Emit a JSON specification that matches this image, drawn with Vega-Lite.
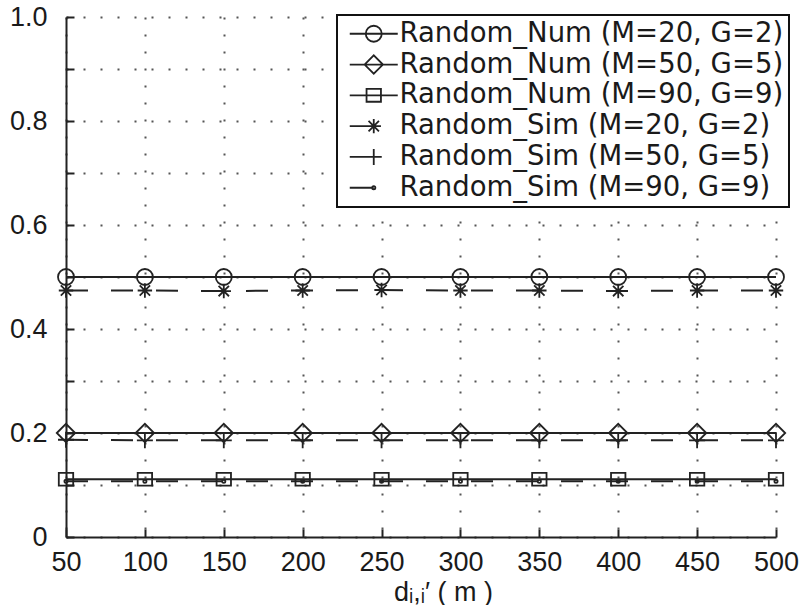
{
  "$schema": "https://vega.github.io/schema/vega-lite/v6.json",
  "width": 710,
  "height": 520,
  "autosize": {"type": "none"},
  "padding": {"left": 66, "top": 17, "right": 27, "bottom": 68},
  "config": {
    "view": {"stroke": null},
    "font": "Liberation Sans",
    "axis": {
      "domainColor": "#222",
      "domainWidth": 2,
      "tickColor": "#222",
      "tickWidth": 2,
      "tickSize": -8,
      "labelFont": "Liberation Sans",
      "labelFontSize": 27,
      "labelColor": "#1a1a1a",
      "labelFlush": false,
      "labelOverlap": false,
      "grid": true,
      "gridColor": "#555",
      "gridWidth": 2,
      "gridDash": [2, 15],
      "gridOpacity": 1
    },
    "legend": {
      "strokeColor": "#111",
      "strokeWidth": 2,
      "fillColor": "white"
    }
  },
  "data": {
    "values": [
      {"d": 50, "series": "Random_Num (M=20, G=2)", "kind": "Num", "p": 0.5},
      {"d": 100, "series": "Random_Num (M=20, G=2)", "kind": "Num", "p": 0.5},
      {"d": 150, "series": "Random_Num (M=20, G=2)", "kind": "Num", "p": 0.5},
      {"d": 200, "series": "Random_Num (M=20, G=2)", "kind": "Num", "p": 0.5},
      {"d": 250, "series": "Random_Num (M=20, G=2)", "kind": "Num", "p": 0.5},
      {"d": 300, "series": "Random_Num (M=20, G=2)", "kind": "Num", "p": 0.5},
      {"d": 350, "series": "Random_Num (M=20, G=2)", "kind": "Num", "p": 0.5},
      {"d": 400, "series": "Random_Num (M=20, G=2)", "kind": "Num", "p": 0.5},
      {"d": 450, "series": "Random_Num (M=20, G=2)", "kind": "Num", "p": 0.5},
      {"d": 500, "series": "Random_Num (M=20, G=2)", "kind": "Num", "p": 0.5},
      {"d": 50, "series": "Random_Num (M=50, G=5)", "kind": "Num", "p": 0.2},
      {"d": 100, "series": "Random_Num (M=50, G=5)", "kind": "Num", "p": 0.2},
      {"d": 150, "series": "Random_Num (M=50, G=5)", "kind": "Num", "p": 0.2},
      {"d": 200, "series": "Random_Num (M=50, G=5)", "kind": "Num", "p": 0.2},
      {"d": 250, "series": "Random_Num (M=50, G=5)", "kind": "Num", "p": 0.2},
      {"d": 300, "series": "Random_Num (M=50, G=5)", "kind": "Num", "p": 0.2},
      {"d": 350, "series": "Random_Num (M=50, G=5)", "kind": "Num", "p": 0.2},
      {"d": 400, "series": "Random_Num (M=50, G=5)", "kind": "Num", "p": 0.2},
      {"d": 450, "series": "Random_Num (M=50, G=5)", "kind": "Num", "p": 0.2},
      {"d": 500, "series": "Random_Num (M=50, G=5)", "kind": "Num", "p": 0.2},
      {"d": 50, "series": "Random_Num (M=90, G=9)", "kind": "Num", "p": 0.111},
      {"d": 100, "series": "Random_Num (M=90, G=9)", "kind": "Num", "p": 0.111},
      {"d": 150, "series": "Random_Num (M=90, G=9)", "kind": "Num", "p": 0.111},
      {"d": 200, "series": "Random_Num (M=90, G=9)", "kind": "Num", "p": 0.111},
      {"d": 250, "series": "Random_Num (M=90, G=9)", "kind": "Num", "p": 0.111},
      {"d": 300, "series": "Random_Num (M=90, G=9)", "kind": "Num", "p": 0.111},
      {"d": 350, "series": "Random_Num (M=90, G=9)", "kind": "Num", "p": 0.111},
      {"d": 400, "series": "Random_Num (M=90, G=9)", "kind": "Num", "p": 0.111},
      {"d": 450, "series": "Random_Num (M=90, G=9)", "kind": "Num", "p": 0.111},
      {"d": 500, "series": "Random_Num (M=90, G=9)", "kind": "Num", "p": 0.111},
      {"d": 50, "series": "Random_Sim (M=20, G=2)", "kind": "Sim", "p": 0.474},
      {"d": 100, "series": "Random_Sim (M=20, G=2)", "kind": "Sim", "p": 0.474},
      {"d": 150, "series": "Random_Sim (M=20, G=2)", "kind": "Sim", "p": 0.473},
      {"d": 200, "series": "Random_Sim (M=20, G=2)", "kind": "Sim", "p": 0.474},
      {"d": 250, "series": "Random_Sim (M=20, G=2)", "kind": "Sim", "p": 0.475},
      {"d": 300, "series": "Random_Sim (M=20, G=2)", "kind": "Sim", "p": 0.474},
      {"d": 350, "series": "Random_Sim (M=20, G=2)", "kind": "Sim", "p": 0.474},
      {"d": 400, "series": "Random_Sim (M=20, G=2)", "kind": "Sim", "p": 0.473},
      {"d": 450, "series": "Random_Sim (M=20, G=2)", "kind": "Sim", "p": 0.474},
      {"d": 500, "series": "Random_Sim (M=20, G=2)", "kind": "Sim", "p": 0.474},
      {"d": 50, "series": "Random_Sim (M=50, G=5)", "kind": "Sim", "p": 0.187},
      {"d": 100, "series": "Random_Sim (M=50, G=5)", "kind": "Sim", "p": 0.186},
      {"d": 150, "series": "Random_Sim (M=50, G=5)", "kind": "Sim", "p": 0.186},
      {"d": 200, "series": "Random_Sim (M=50, G=5)", "kind": "Sim", "p": 0.186},
      {"d": 250, "series": "Random_Sim (M=50, G=5)", "kind": "Sim", "p": 0.186},
      {"d": 300, "series": "Random_Sim (M=50, G=5)", "kind": "Sim", "p": 0.186},
      {"d": 350, "series": "Random_Sim (M=50, G=5)", "kind": "Sim", "p": 0.186},
      {"d": 400, "series": "Random_Sim (M=50, G=5)", "kind": "Sim", "p": 0.186},
      {"d": 450, "series": "Random_Sim (M=50, G=5)", "kind": "Sim", "p": 0.186},
      {"d": 500, "series": "Random_Sim (M=50, G=5)", "kind": "Sim", "p": 0.186},
      {"d": 50, "series": "Random_Sim (M=90, G=9)", "kind": "Sim", "p": 0.107},
      {"d": 100, "series": "Random_Sim (M=90, G=9)", "kind": "Sim", "p": 0.107},
      {"d": 150, "series": "Random_Sim (M=90, G=9)", "kind": "Sim", "p": 0.107},
      {"d": 200, "series": "Random_Sim (M=90, G=9)", "kind": "Sim", "p": 0.107},
      {"d": 250, "series": "Random_Sim (M=90, G=9)", "kind": "Sim", "p": 0.107},
      {"d": 300, "series": "Random_Sim (M=90, G=9)", "kind": "Sim", "p": 0.107},
      {"d": 350, "series": "Random_Sim (M=90, G=9)", "kind": "Sim", "p": 0.107},
      {"d": 400, "series": "Random_Sim (M=90, G=9)", "kind": "Sim", "p": 0.107},
      {"d": 450, "series": "Random_Sim (M=90, G=9)", "kind": "Sim", "p": 0.107},
      {"d": 500, "series": "Random_Sim (M=90, G=9)", "kind": "Sim", "p": 0.107}
    ]
  },
  "encoding": {
    "x": {
      "field": "d",
      "type": "quantitative",
      "scale": {"domain": [50, 500], "nice": false, "zero": false},
      "axis": {
        "values": [50, 100, 150, 200, 250, 300, 350, 400, 450, 500],
        "format": "d",
        "labelPadding": 20,
        "title": "dᵢ,ᵢ′ ( m )",
        "titleFont": "Liberation Sans",
        "titleFontSize": 27,
        "titleFontWeight": "normal",
        "titleColor": "#1a1a1a",
        "titleX": 377,
        "titleY": 63,
        "titleAnchor": "middle",
        "titleBaseline": "alphabetic"
      }
    },
    "y": {
      "field": "p",
      "type": "quantitative",
      "scale": {"domain": [0, 1], "nice": false},
      "axis": {
        "values": [0, 0.1, 0.2, 0.3, 0.4, 0.5, 0.6, 0.7, 0.8, 0.9, 1.0],
        "labelExpr": "datum.value == 0 ? '0' : (round(datum.value * 10) % 2 == 0 ? format(datum.value, '.1f') : '')",
        "labelPadding": 27,
        "title": null
      }
    }
  },
  "layer": [
    {
      "mark": {"type": "line", "color": "#222", "strokeWidth": 2},
      "encoding": {
        "detail": {"field": "series"},
        "strokeDash": {
          "field": "kind",
          "type": "nominal",
          "scale": {"domain": ["Num", "Sim"], "range": [[1, 0], [22, 23]]},
          "legend": null
        }
      }
    },
    {
      "mark": {"type": "point", "filled": false, "color": "#222", "strokeWidth": 1.8, "opacity": 1, "size": 256},
      "encoding": {
        "shape": {
          "field": "series",
          "type": "nominal",
          "scale": {
            "domain": ["Random_Num (M=20, G=2)", "Random_Num (M=50, G=5)", "Random_Num (M=90, G=9)", "Random_Sim (M=20, G=2)", "Random_Sim (M=50, G=5)", "Random_Sim (M=90, G=9)"],
            "range": [
              "M1,0A1,1 0 1,1 -1,0A1,1 0 1,1 1,0Z",
              "M-1.15,0L0,-1.15L1.15,0L0,1.15Z",
              "M-0.9,-0.8H0.9V0.8H-0.9Z",
              "M0,-0.9V0.9M-0.9,0H0.9M-0.65,-0.65L0.65,0.65M-0.65,0.65L0.65,-0.65",
              "M0,-1V1M-1,0H1",
              "M0.2,0A0.2,0.2 0 1,1 -0.2,0A0.2,0.2 0 1,1 0.2,0Z"
            ]
          },
          "legend": null
        }
      }
    },
    {
      "mark": {"type": "point", "filled": false, "color": "#222", "strokeWidth": 1.8, "opacity": 0, "size": 256},
      "encoding": {
        "shape": {
          "field": "series",
          "type": "nominal",
          "scale": {
            "domain": ["Random_Num (M=20, G=2)", "Random_Num (M=50, G=5)", "Random_Num (M=90, G=9)", "Random_Sim (M=20, G=2)", "Random_Sim (M=50, G=5)", "Random_Sim (M=90, G=9)"],
            "range": [
              "M-3,0H3M1,0A1,1 0 1,1 -1,0A1,1 0 1,1 1,0Z",
              "M-3,0H3M-1.15,0L0,-1.15L1.15,0L0,1.15Z",
              "M-3,0H3M-0.9,-0.8H0.9V0.8H-0.9Z",
              "M-3,0H0M0,-0.9V0.9M-0.9,0H0.9M-0.65,-0.65L0.65,0.65M-0.65,0.65L0.65,-0.65",
              "M-3,0H0M0,-1V1M-1,0H1",
              "M-3,0H0M0.2,0A0.2,0.2 0 1,1 -0.2,0A0.2,0.2 0 1,1 0.2,0Z"
            ]
          },
          "legend": {
            "title": null,
            "orient": "none",
            "legendX": 271,
            "legendY": -2,
            "padding": 5,
            "symbolSize": 256,
            "symbolOpacity": 1,
            "symbolStrokeColor": "#222",
            "symbolFillColor": "transparent",
            "symbolStrokeWidth": 1.8,
            "symbolOffset": 18,
            "labelOffset": 12,
            "labelFont": "DejaVu Sans",
            "labelFontSize": 27.5,
            "labelColor": "#1a1a1a",
            "labelLimit": 500,
            "rowPadding": 1.8
          }
        }
      }
    }
  ],
  "resolve": {"scale": {"shape": "independent"}, "legend": {"shape": "independent"}}
}
